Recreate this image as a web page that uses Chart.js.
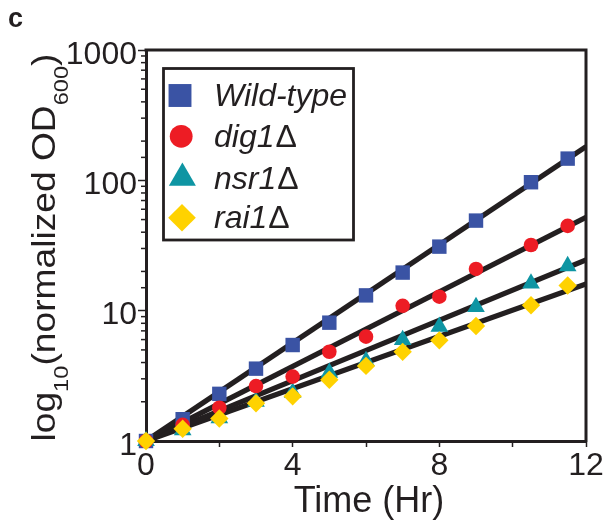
<!DOCTYPE html>
<html><head><meta charset="utf-8">
<script src="https://cdn.jsdelivr.net/npm/chart.js@4.4.0/dist/chart.umd.min.js"></script>
<style>html,body{margin:0;padding:0;background:#fff}#wrap{width:608px;height:523px;position:relative}</style>
</head><body><div id="wrap"><canvas id="c" width="608" height="523"></canvas></div>
<script>
// ---- data ----
const hours = [0, 1, 2, 3, 4, 5, 6, 7, 8, 9, 10.5, 11.5];
const wildType = [1, 1.47, 2.30, 3.59, 5.45, 8.09, 13.1, 19.6, 31.0, 49.1, 96.7, 146.8];
const dig1 = [1, 1.33, 1.80, 2.64, 3.12, 4.84, 6.32, 10.9, 12.8, 20.9, 31.9, 44.7];
const nsr1 = [1, 1.21, 1.50, 2.00, 2.35, 3.34, 4.11, 5.96, 7.54, 10.7, 16.2, 22.0];
const rai1 = [1, 1.24, 1.49, 1.95, 2.20, 2.95, 3.77, 4.83, 5.92, 7.63, 11.0, 15.6];
const fitHours = [0, 12];
const wildTypeFit = [1, 181.5];
const dig1Fit = [1, 52.1];
const nsr1Fit = [1, 24.5];
const rai1Fit = [1, 16.0];
const seriesNames = ['Wild-type', 'dig1', 'nsr1', 'rai1'];
const deltaSuffix = ['', 'Δ', 'Δ', 'Δ'];
const xTickLabels = [0, 4, 8, 12];
const yTickLabels = [1, 10, 100, 1000];

const INK = '#231f20';
const FAM = '"Liberation Sans", Arial, Helvetica, sans-serif';
const colors = ['#3a53a4', '#ed1c24', '#0e95a3', '#ffd200'];
const styles = ['rect', 'circle', 'triangle', 'rectRot'];
const radii = [10.2, 7.3, 10.2, 9.2];
const legendRadii = [16.2, 11.4, 15.6, 13.8];

const pts = (xs, ys) => xs.map((x, i) => ({x, y: ys[i]}));
const isDecade = v => yTickLabels.includes(v);

const seriesData = [wildType, dig1, nsr1, rai1];
const fitData = [wildTypeFit, dig1Fit, nsr1Fit, rai1Fit];
const drawOrder = [3, 1, 2, 0]; // lower = on top

const datasets = [];
seriesData.forEach((d, i) => {
  datasets.push({
    label: seriesNames[i] + deltaSuffix[i],
    data: pts(hours, d),
    showLine: false,
    pointStyle: styles[i],
    pointRadius: radii[i],
    pointHoverRadius: radii[i],
    pointBackgroundColor: colors[i],
    pointBorderWidth: 0,
    borderWidth: 0,
    clip: false,
    order: drawOrder[i]
  });
});
fitData.forEach((d, i) => {
  datasets.push({
    label: seriesNames[i] + ' fit',
    data: pts(fitHours, d),
    showLine: true,
    borderColor: INK,
    borderWidth: 5.2,
    pointRadius: 0,
    fill: false,
    order: 10
  });
});

const deco = {
  id: 'deco',
  afterDraw(chart) {
    const {ctx, chartArea: a, scales: {y}} = chart;
    ctx.save();
    // frame top/right
    ctx.strokeStyle = INK;
    ctx.lineWidth = 3;
    ctx.beginPath();
    ctx.moveTo(a.left - 1.5, a.top);
    ctx.lineTo(a.right, a.top);
    ctx.lineTo(a.right, a.bottom + 1.5);
    ctx.stroke();
    // minor y ticks
    ctx.lineWidth = 1.5;
    y.ticks.forEach(t => {
      if (!isDecade(t.value)) {
        const py = y.getPixelForValue(t.value);
        ctx.beginPath();
        ctx.moveTo(a.left - 5, py);
        ctx.lineTo(a.left, py);
        ctx.stroke();
      }
    });
    // legend box
    const bx = a.left + 17.5, by = a.top + 18.5, bw = 190, bh = 171.5;
    ctx.fillStyle = '#fff';
    ctx.fillRect(bx, by, bw, bh);
    ctx.lineWidth = 2.8;
    ctx.strokeStyle = INK;
    ctx.strokeRect(bx, by, bw, bh);
    const rowY = [95.5, 136.3, 178, 217.8];
    const mx = [180, 181.2, 182.4, 182];
    seriesNames.forEach((name, i) => {
      ctx.fillStyle = colors[i];
      Chart.helpers.drawPoint(ctx, {pointStyle: styles[i], radius: legendRadii[i], rotation: 0, borderWidth: 0}, mx[i], rowY[i]);
      ctx.fillStyle = INK;
      ctx.textBaseline = 'alphabetic';
      ctx.textAlign = 'left';
      ctx.font = 'italic 32px ' + FAM;
      const tx = 214, ty = rowY[i] + 10.5;
      ctx.fillText(name, tx, ty);
      const w = ctx.measureText(name).width;
      ctx.font = '32px ' + FAM;
      if (deltaSuffix[i]) ctx.fillText(deltaSuffix[i], tx + w + 1, ty);
    });
    // x title
    ctx.fillStyle = INK;
    ctx.font = '36px ' + FAM;
    ctx.textAlign = 'center';
    ctx.textBaseline = 'alphabetic';
    ctx.fillText('Time (Hr)', (a.left + a.right) / 2 + 3, 511.5);
    // y title with subscripts
    const parts = [['log', 0], ['10', 1], ['(normalized OD', 0], ['600', 1], [')', 0]];
    const mainF = '33px ' + FAM, subF = '21px ' + FAM;
    let total = 0;
    const widths = parts.map(p => { ctx.font = p[1] ? subF : mainF; const w = ctx.measureText(p[0]).width; total += w; return w; });
    const targetLen = 388;
    const s = targetLen / total;
    ctx.translate(54.5, (a.top + a.bottom) / 2 + 2);
    ctx.rotate(-Math.PI / 2);
    ctx.scale(s, 1);
    ctx.textAlign = 'left';
    let xx = -total / 2;
    parts.forEach((p, i) => {
      ctx.font = p[1] ? subF : mainF;
      ctx.fillText(p[0], xx, p[1] ? 13 : 0);
      xx += widths[i];
    });
    ctx.restore();
    // panel letter
    ctx.save();
    ctx.fillStyle = INK;
    ctx.font = 'bold 27px ' + FAM;
    ctx.textAlign = 'left';
    ctx.textBaseline = 'alphabetic';
    ctx.fillText('c', 8, 27);
    ctx.restore();
  }
};

new Chart(document.getElementById('c'), {
  type: 'scatter',
  data: {datasets},
  options: {
    responsive: false,
    animation: false,
    events: [],
    layout: {padding: {top: 50, right: 22, left: 0, bottom: 0}},
    plugins: {legend: {display: false}, tooltip: {enabled: false}},
    scales: {
      x: {
        type: 'linear', min: 0, max: 12,
        afterFit(s) { s.height = 82; },
        ticks: {
          stepSize: 2, autoSkip: false, maxRotation: 0, padding: 0,
          callback: v => xTickLabels.includes(v) ? String(v) : '',
          font: {family: FAM, size: 32}, color: INK
        },
        grid: {drawOnChartArea: false, drawTicks: true, tickLength: 6, tickWidth: 1.5, tickColor: INK},
        border: {display: true, color: INK, width: 3}
      },
      y: {
        type: 'logarithmic', min: 1, max: 1000,
        afterFit(s) { s.width = 146; },
        ticks: {
          autoSkip: false, padding: 1, labelOffset: 5,
          callback: v => isDecade(v) ? String(v) : '',
          font: {family: FAM, size: 32}, color: INK
        },
        grid: {
          drawOnChartArea: false, drawTicks: true, tickLength: 8, tickWidth: 1.5,
          tickColor: c => (c.tick && isDecade(c.tick.value)) ? INK : 'rgba(0,0,0,0)'
        },
        border: {display: true, color: INK, width: 3}
      }
    }
  },
  plugins: [deco]
});
</script>
</body></html>
